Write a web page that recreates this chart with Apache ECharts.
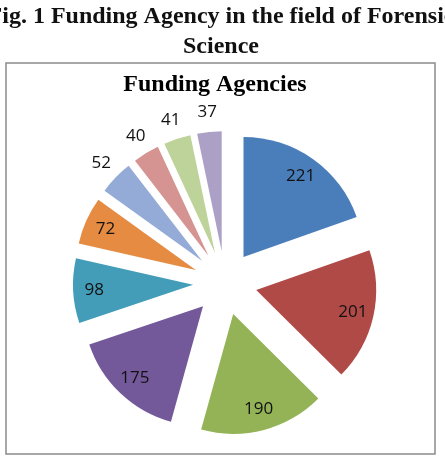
<!DOCTYPE html>
<html>
<head>
<meta charset="utf-8">
<script src="https://cdn.jsdelivr.net/npm/echarts@6/dist/echarts.min.js"></script>
<style>
html,body{margin:0;padding:0;background:#fff;}
#main{width:445px;height:461px;}
</style>
</head>
<body>
<div id="main"></div>
<script>
// agencies (unnamed in the figure) and project counts
var agencies = ['A1','A2','A3','A4','A5','A6','A7','A8','A9','A10'];
var projects = [221,201,190,175,98,72,52,40,41,37];
var colors = ['#4A7EBB','#B04A47','#93B356','#74599A','#439DB8','#E58B42','#93ABD6','#D59391','#BDD39A','#ADA0C6'];
// labels drawn outside the slice for the small ones
var outside = [false,false,false,false,false,false,true,true,true,true];

var center = [225,283];
var R = 120;
var explode = 32;

function items(mode){
	var arr = [];
	for(var i=0;i<projects.length;i++){
		var it = {name:agencies[i],value:projects[i],selected:true};
		if(mode=='main'){
			it.itemStyle = {color:colors[i]};
		}else{
			it.itemStyle = {color:'rgba(0,0,0,0)'};
			it.label = {show:(mode=='out')==outside[i]};
		}
		arr.push(it);
	}
	return arr;
}

var labelFont = {fontFamily:'Open Sans',fontSize:17,color:'#111',formatter:'{c}'};

function pie(radius,mode){
	return {
		type:'pie',
		center:center,
		radius:radius,
		startAngle:90,
		selectedMode:'multiple',
		selectedOffset:explode,
		avoidLabelOverlap:false,
		silent:true,
		animation:false,
		label:mode=='main' ? {show:false} : Object.assign({position:'inside'},labelFont),
		labelLine:{show:false},
		emphasis:{disabled:true},
		data:items(mode)
	};
}

var series = [pie([0,R],'main'), pie([72,R],'in'), pie([124,150],'out')];

var chart = echarts.init(document.getElementById('main'));
chart.setOption({
	backgroundColor:'#fff',
	title:[{
		text:'Fig. 1 Funding Agency in the field of Forensic\nScience',
		left:216,top:-3,
		textAlign:'center',
		textStyle:{fontFamily:'Liberation Serif',fontWeight:'bold',fontSize:24,lineHeight:30,color:'#111'}
	},{
		text:'Funding Agencies',
		left:210,top:68,textAlign:'center',
		textStyle:{fontFamily:'Liberation Serif',fontWeight:'bold',fontSize:24,color:'#000'}
	}],
	graphic:[{
		type:'rect',
		shape:{x:6,y:63,width:429,height:391},
		style:{fill:null,stroke:'#8c8c8c',lineWidth:1.5},
		z:-1
	}],
	series:series
});
</script>
</body>
</html>
